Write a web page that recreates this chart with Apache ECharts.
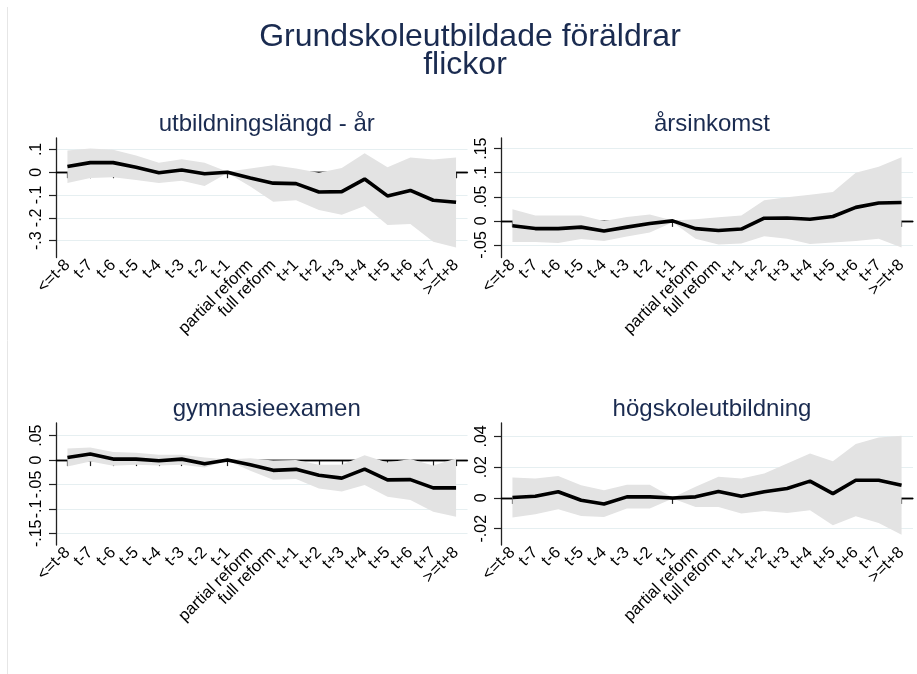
<!DOCTYPE html>
<html>
<head>
<meta charset="utf-8">
<script src="https://cdn.jsdelivr.net/npm/echarts@6/dist/echarts.min.js"></script>
<style>html,body{margin:0;padding:0;background:#fff;}#c{width:917px;height:674px;}</style>
</head>
<body>
<div id="c"></div>
<script>
const categories = ['<=t-8','t-7','t-6','t-5','t-4','t-3','t-2','t-1','partial reform','full reform','t+1','t+2','t+3','t+4','t+5','t+6','t+7','>=t+8'];

const mainTitleLines = ['Grundskoleutbildade föräldrar', 'flickor'];
const panelTitles = ['utbildningslängd - år', 'årsinkomst', 'gymnasieexamen', 'högskoleutbildning'];

// Panel 1: utbildningslängd - år
const est1   = [0.025, 0.042, 0.042, 0.022, -0.002, 0.010, -0.007, 0.000, -0.025, -0.048, -0.050, -0.087, -0.085, -0.030, -0.104, -0.080, -0.123, -0.132];
const upper1 = [0.095, 0.104, 0.098, 0.073, 0.042, 0.057, 0.042, 0.002, 0.016, 0.031, 0.016, -0.002, 0.019, 0.083, 0.022, 0.064, 0.056, 0.064];
const lower1 = [-0.047, -0.025, -0.022, -0.034, -0.047, -0.038, -0.060, -0.003, -0.063, -0.129, -0.123, -0.166, -0.186, -0.148, -0.232, -0.227, -0.305, -0.330];
const yTicks1 = [-0.3, -0.2, -0.1, 0, 0.1];
const yLabels1 = ['-.3', '-.2', '-.1', '0', '.1'];

// Panel 2: årsinkomst
const est2   = [-0.010, -0.016, -0.016, -0.013, -0.021, -0.013, -0.0055, 0.000, -0.016, -0.020, -0.017, 0.0056, 0.006, 0.0035, 0.009, 0.028, 0.037, 0.038];
const upper2 = [0.024, 0.011, 0.011, 0.011, 0.000, 0.008, 0.013, 0.001, 0.0035, 0.0077, 0.011, 0.043, 0.049, 0.054, 0.060, 0.100, 0.1125, 0.132];
const lower2 = [-0.044, -0.044, -0.046, -0.0375, -0.042, -0.0325, -0.024, -0.003, -0.037, -0.049, -0.047, -0.032, -0.037, -0.048, -0.045, -0.042, -0.037, -0.0555];
const yTicks2 = [-0.05, 0, 0.05, 0.1, 0.15];
const yLabels2 = ['-.05', '0', '.05', '.1', '.15'];

// Panel 3: gymnasieexamen
const est3   = [0.0054, 0.0123, 0.002, 0.002, -0.0014, 0.002, -0.0076, 0.000, -0.0097, -0.021, -0.019, -0.031, -0.037, -0.0185, -0.0405, -0.040, -0.057, -0.057];
const upper3 = [0.024, 0.026, 0.0165, 0.015, 0.011, 0.011, 0.0054, 0.001, 0.004, -0.001, 0.000, -0.0097, -0.0097, 0.010, -0.005, 0.002, -0.011, 0.003];
const lower3 = [-0.013, -0.003, -0.0117, -0.0097, -0.011, -0.0097, -0.015, -0.001, -0.022, -0.0405, -0.039, -0.058, -0.0646, -0.051, -0.075, -0.0817, -0.106, -0.116];
const yTicks3 = [-0.15, -0.1, -0.05, 0, 0.05];
const yLabels3 = ['-.15', '-.1', '-.05', '0', '.05'];

// Panel 4: högskoleutbildning
const est4   = [0.0003, 0.0011, 0.004, -0.0015, -0.004, 0.0007, 0.0007, 0.000, 0.0007, 0.0042, 0.0011, 0.004, 0.0061, 0.0109, 0.0028, 0.0115, 0.0115, 0.0083];
const upper4 = [0.0133, 0.0126, 0.0143, 0.0083, 0.005, 0.0085, 0.0085, 0.0003, 0.0072, 0.0137, 0.0126, 0.0159, 0.0224, 0.0289, 0.0239, 0.035, 0.0393, 0.0404];
const lower4 = [-0.0128, -0.0106, -0.0074, -0.0117, -0.0124, -0.0069, -0.0069, -0.0004, -0.0059, -0.0059, -0.0102, -0.0085, -0.0098, -0.008, -0.0178, -0.0119, -0.0163, -0.0239];
const yTicks4 = [-0.02, 0, 0.02, 0.04];
const yLabels4 = ['-.02', '0', '.02', '.04'];

const panels = [
  {est: est1, up: upper1, lo: lower1, ticks: yTicks1, labels: yLabels1, min: -0.374, max: 0.150},
  {est: est2, up: upper2, lo: lower2, ticks: yTicks2, labels: yLabels2, min: -0.076, max: 0.172},
  {est: est3, up: upper3, lo: lower3, ticks: yTicks3, labels: yLabels3, min: -0.174, max: 0.076},
  {est: est4, up: upper4, lo: lower4, ticks: yTicks4, labels: yLabels4, min: -0.0306, max: 0.0487}
];

const FONT = 'Liberation Sans, Arial, Helvetica, sans-serif';
const TITLE_COLOR = '#1a2b50';
const grids = [
  {left: 56, top: 138, width: 411.5, height: 119.5},
  {left: 501, top: 138, width: 412, height: 119.5},
  {left: 56, top: 423, width: 411.5, height: 122},
  {left: 501, top: 423, width: 412, height: 122}
];
const titleTops = [107, 107, 392, 392];
const mainTitlePos = [{left: 465, top: 17}, {left: 460, top: 45}];

const option = {
  backgroundColor: '#ffffff',
  animation: false,
  title: mainTitleLines.map((t, i) => ({
    text: t, left: mainTitlePos[i].left, top: mainTitlePos[i].top, textAlign: 'center',
    textStyle: {fontFamily: FONT, fontSize: 32, fontWeight: 'normal', color: TITLE_COLOR, lineHeight: 30}
  })).concat(panelTitles.map((t, i) => ({
    text: t,
    left: grids[i].left + grids[i].width / 2,
    top: titleTops[i],
    textAlign: 'center',
    textStyle: {fontFamily: FONT, fontSize: 24, fontWeight: 'normal', color: TITLE_COLOR}
  }))),
  graphic: [{
    type: 'line', shape: {x1: 7.5, y1: 7, x2: 7.5, y2: 674},
    style: {stroke: '#e6e6e6', lineWidth: 1}, silent: true
  }],
  grid: grids.map(g => Object.assign({containLabel: false}, g)),
  xAxis: grids.map((g, i) => ({
    type: 'category', gridIndex: i, data: categories, boundaryGap: true,
    axisLine: {show: true, lineStyle: {color: '#222', width: 1.3}},
    axisTick: {show: true, alignWithLabel: true, length: 6, interval: 0, lineStyle: {color: '#222', width: 1.2}},
    axisLabel: {interval: 0, rotate: 45, margin: 5, fontFamily: FONT, fontSize: 16.5, color: '#000'},
    splitLine: {show: false}
  })),
  yAxis: panels.map((p, i) => ({
    type: 'value', gridIndex: i, min: p.min, max: p.max,
    axisLine: {show: true, lineStyle: {color: '#222', width: 1.3}},
    axisTick: {show: true, length: 7, customValues: p.ticks, lineStyle: {color: '#222', width: 1.2}},
    axisLabel: {
      customValues: p.ticks, rotate: 90, margin: 11, fontFamily: FONT, fontSize: 16, color: '#000',
      formatter: v => {
        const k = p.ticks.findIndex(t => Math.abs(t - v) < 1e-9);
        return k >= 0 ? p.labels[k] : '';
      }
    },
    splitLine: {show: true, lineStyle: {color: '#e6eff1', width: 1.2}}
  })),
  series: []
};

panels.forEach((p, i) => {
  const stackId = 'band' + i;
  option.series.push({
    type: 'line', xAxisIndex: i, yAxisIndex: i, data: p.lo, stack: stackId, stackStrategy: 'all',
    symbol: 'none', lineStyle: {opacity: 0, width: 0}, silent: true, z: 2,
    markLine: {
      silent: true, symbol: 'none', label: {show: false},
      lineStyle: {color: '#000', width: 1.3, type: 'solid'},
      data: [{yAxis: 0}], z: 1
    }
  });
  option.series.push({
    type: 'line', xAxisIndex: i, yAxisIndex: i,
    data: p.up.map((u, k) => +(u - p.lo[k]).toFixed(6)),
    stack: stackId, stackStrategy: 'all',
    symbol: 'none', lineStyle: {opacity: 0, width: 0},
    areaStyle: {color: '#e3e3e3', opacity: 1}, silent: true, z: 3
  });
  option.series.push({
    type: 'line', xAxisIndex: i, yAxisIndex: i, data: p.est,
    symbol: 'none', lineStyle: {color: '#000', width: 3.6}, z: 4, silent: true
  });
});

const chart = echarts.init(document.getElementById('c'), null, {renderer: 'canvas'});
chart.setOption(option);
</script>
</body>
</html>
